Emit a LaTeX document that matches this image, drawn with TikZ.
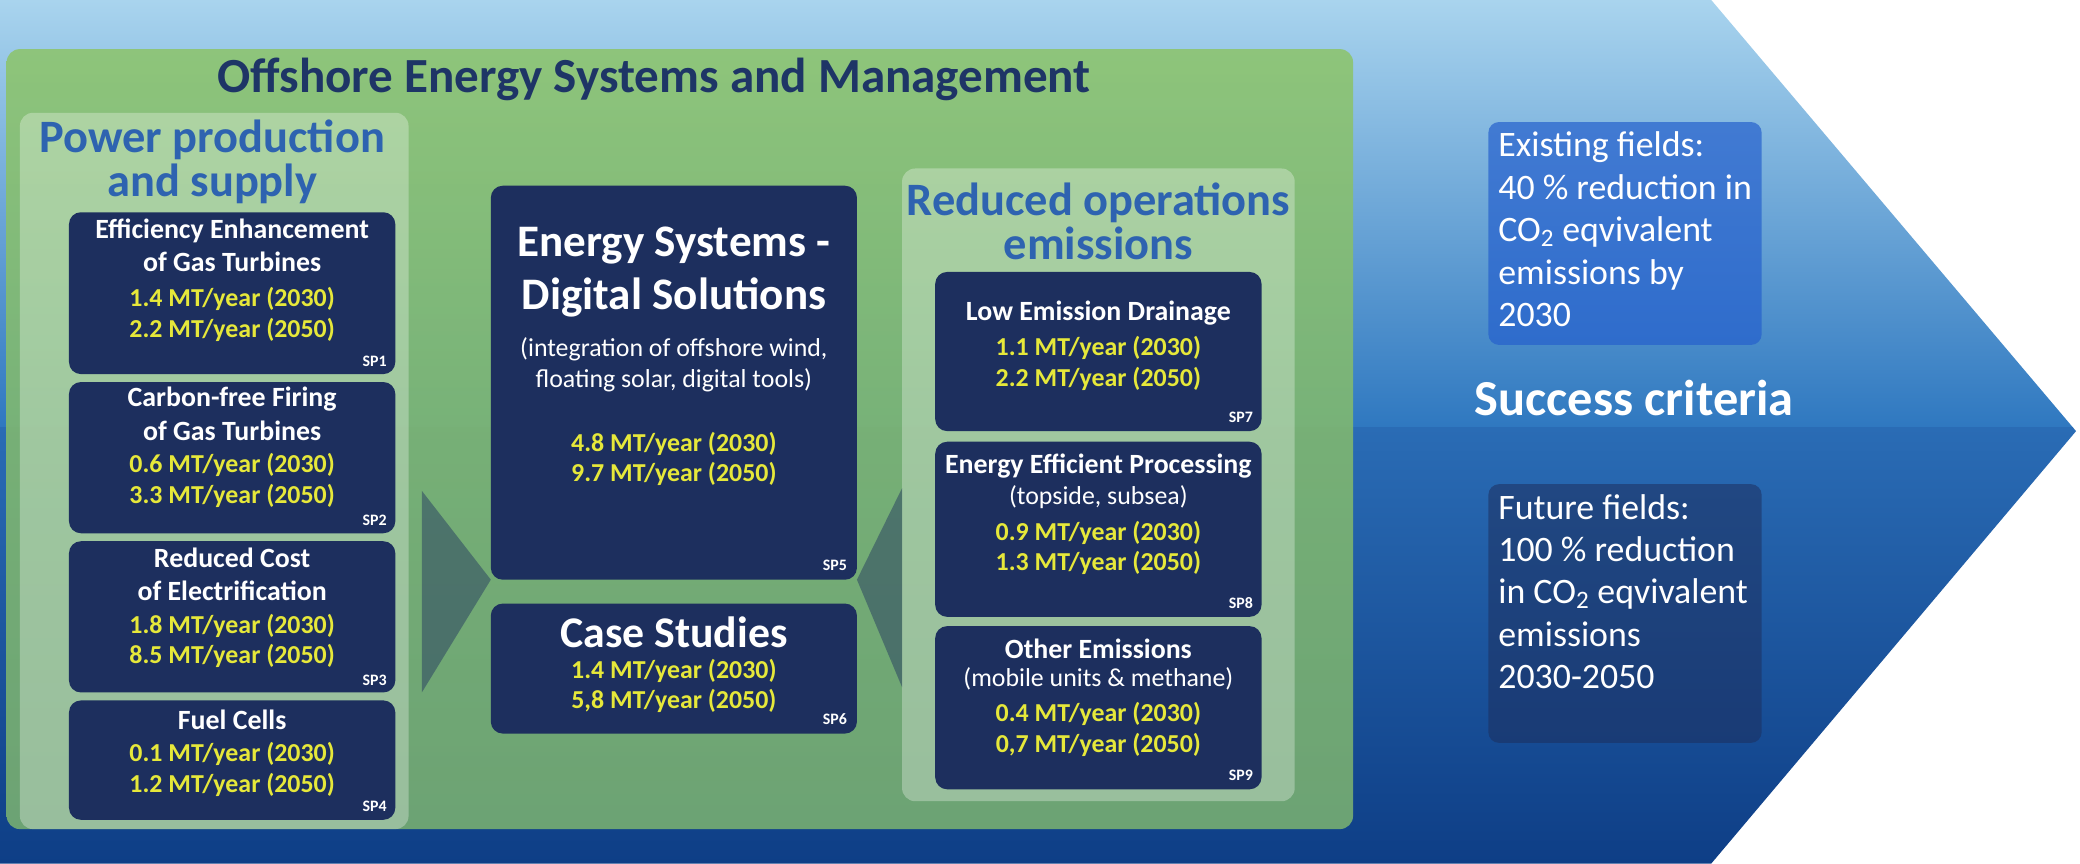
\documentclass[tikz,border=0pt]{standalone}
\usepackage{fontspec}
\setmainfont{Carlito}
\usetikzlibrary{calc}
\definecolor{navy}{HTML}{1D2F5E}
\definecolor{ylw}{HTML}{E6E83A}
\definecolor{ttl}{HTML}{2E63B0}
\definecolor{dtl}{HTML}{1E3566}
\definecolor{skytop}{HTML}{A9D4EE}
\definecolor{skybot}{HTML}{2F78C0}
\definecolor{seatop}{HTML}{2A6CB5}
\definecolor{seabot}{HTML}{0E3E86}
\definecolor{grn}{HTML}{8CC468}
\definecolor{grnb}{HTML}{7DB470}
\begin{document}
\begin{tikzpicture}[x=1pt,y=-1pt,
  spbox/.style={fill=navy,rounded corners=9pt},
  wt/.style={text=white,font=\bfseries\fontsize{21}{25}\selectfont,align=center},
  yt/.style={text=ylw,font=\bfseries\fontsize{19.5}{23}\selectfont,align=center},
  pt/.style={text=white,font=\fontsize{19.5}{23}\selectfont,align=center},
  spl/.style={text=white,font=\bfseries\fontsize{12}{13}\selectfont,anchor=south east},
  rt/.style={text=white,font=\fontsize{27}{32}\selectfont,align=left,anchor=north west}]
\useasboundingbox (0,0) rectangle (1568,651);
\fill[white] (0,0) rectangle (1568,651);
\begin{scope}
\clip (0,0) -- (1290,0) -- (1565,325) -- (1290,651) -- (0,651) -- cycle;
\shade[top color=skytop,bottom color=skybot] (0,0) rectangle (1568,322);
\shade[top color=seatop,bottom color=seabot] (0,322) rectangle (1568,651);
\end{scope}
% green panel
\shade[top color=grn,bottom color=grnb,opacity=0.85,rounded corners=10pt] (5,37) rectangle (1020,625);
\node[text=dtl,font=\bfseries\fontsize{37}{42}\selectfont] (title) at (493,60) {Offshore Energy Systems and Management};
% sub panels
\fill[white,opacity=0.3,rounded corners=10pt] (15,85) rectangle (308,625);
\fill[white,opacity=0.3,rounded corners=10pt] (680,127) rectangle (976,604);
\node[text=ttl,font=\bfseries\fontsize{35}{33}\selectfont,align=center] (lt) at (160,122) {Power production\\and supply};
\node[text=ttl,font=\bfseries\fontsize{35}{33}\selectfont,align=center] (rtt) at (828,167) {Reduced operations\\emissions};
% pointers
\fill[navy,opacity=0.45] (318,370) -- (370,437) -- (318,522) -- cycle;
\fill[navy,opacity=0.45] (680,368) -- (646,437) -- (680,518) -- cycle;
% left boxes
\fill[spbox] (52,160) rectangle (298,282);
\node[wt] (t1) at (175,185) {Efficiency Enhancement\\of Gas Turbines};
\node[yt] (y1) at (175,237) {1.4 MT/year (2030)\\2.2 MT/year (2050)};
\node[spl] (s1) at (295,280) {SP1};
\fill[spbox] (52,288) rectangle (298,402);
\node[wt] (t2) at (175,312) {Carbon-free Firing\\of Gas Turbines};
\node[yt] (y2) at (175,362) {0.6 MT/year (2030)\\3.3 MT/year (2050)};
\node[spl] (s2) at (295,400) {SP2};
\fill[spbox] (52,408) rectangle (298,522);
\node[wt] (t3) at (175,433) {Reduced Cost\\of Electrification};
\node[yt] (y3) at (175,483) {1.8 MT/year (2030)\\8.5 MT/year (2050)};
\node[spl] (s3) at (295,520) {SP3};
\fill[spbox] (52,528) rectangle (298,618);
\node[wt] (t4) at (175,543) {Fuel Cells};
\node[yt] (y4) at (175,580) {0.1 MT/year (2030)\\1.2 MT/year (2050)};
\node[spl] (s4) at (295,615) {SP4};
% middle
\fill[spbox] (370,140) rectangle (646,437);
\node[text=white,font=\bfseries\fontsize{34}{40}\selectfont,align=center] (t5) at (508,205) {Energy Systems -\\Digital Solutions};
\node[pt] (p5) at (508,275) {(integration of offshore wind,\\floating solar, digital tools)};
\node[yt] (y5) at (508,346) {4.8 MT/year (2030)\\9.7 MT/year (2050)};
\node[spl] (s5) at (642,434) {SP5};
\fill[spbox] (370,455) rectangle (646,553);
\node[text=white,font=\bfseries\fontsize{33}{36}\selectfont] (t6) at (508,477) {Case Studies};
\node[yt] (y6) at (508,517) {1.4 MT/year (2030)\\5,8 MT/year (2050)};
\node[spl] (s6) at (642,550) {SP6};
% right boxes
\fill[spbox] (705,205) rectangle (951,325);
\node[wt] (t7) at (828,236) {Low Emission Drainage};
\node[yt] (y7) at (828,274) {1.1 MT/year (2030)\\2.2 MT/year (2050)};
\node[spl] (s7) at (948,322) {SP7};
\fill[spbox] (705,333) rectangle (951,465);
\node[wt] (t8) at (828,351) {Energy Efficient Processing};
\node[pt] (p8) at (828,375) {(topside, subsea)};
\node[yt] (y8) at (828,413) {0.9 MT/year (2030)\\1.3 MT/year (2050)};
\node[spl] (s8) at (948,462) {SP8};
\fill[spbox] (705,472) rectangle (951,595);
\node[wt] (t9) at (828,489) {Other Emissions};
\node[pt] (p9) at (828,512) {(mobile units \& methane)};
\node[yt] (y9) at (828,550) {0.4 MT/year (2030)\\0,7 MT/year (2050)};
\node[spl] (s9) at (948,592) {SP9};
% right side
\fill[skybot!80!blue,opacity=0.7,rounded corners=8pt] (1122,92) rectangle (1328,260);
\node[rt] (ex) at (1126,96) {Existing fields:\\40 \% reduction in\\CO\textsubscript{2} eqvivalent\\emissions by\\2030};
\node[text=white,font=\bfseries\fontsize{38}{42}\selectfont] (sc) at (1232,300) {Success criteria};
\fill[navy,opacity=0.55,rounded corners=8pt] (1122,365) rectangle (1328,560);
\node[rt] (fu) at (1126,369) {Future fields:\\100 \% reduction\\in CO\textsubscript{2} eqvivalent\\emissions\\2030-2050};
\end{tikzpicture}
\end{document}
